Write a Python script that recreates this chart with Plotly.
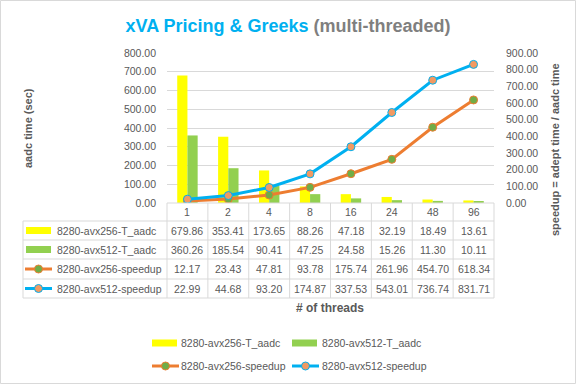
import plotly.graph_objects as go

# ---------------- data ----------------
threads = ["1", "2", "4", "8", "16", "24", "48", "96"]
avx256_time = [679.86, 353.41, 173.65, 88.26, 47.18, 32.19, 18.49, 13.61]
avx512_time = [360.26, 185.54, 90.41, 47.25, 24.58, 15.26, 11.30, 10.11]
avx256_speedup = [12.17, 23.43, 47.81, 93.78, 175.74, 261.96, 454.70, 618.34]
avx512_speedup = [22.99, 44.68, 93.20, 174.87, 337.53, 543.01, 736.74, 831.71]
series_names = ["8280-avx256-T_aadc", "8280-avx512-T_aadc",
                "8280-avx256-speedup", "8280-avx512-speedup"]
left_ticks = [0, 100, 200, 300, 400, 500, 600, 700, 800]
right_ticks = [0, 100, 200, 300, 400, 500, 600, 700, 800, 900]

# ---------------- styling / layout helpers ----------------
W, H = 576, 384
L, R, T, B = 167, 494, 53, 203
FONT = "Liberation Sans, Arial, sans-serif"
GREY = "#595959"
LINEC = "#D9D9D9"
YELLOW, GREEN, ORANGE, BLUE = "#FFFF00", "#92D050", "#ED7D31", "#00B0F0"
MK_GREEN, MK_ORANGE = "#70AD47", "#F19A63"
NCAT = len(threads)
FS = 10.5


def px(x):
    return (x - L) / (R - L)


def py(y):
    return (B - y) / (B - T)


def catx(i):
    return (i + 0.5) / NCAT


fig = go.Figure()
fig.add_trace(go.Bar(x=threads, y=avx256_time, name=series_names[0],
                     marker=dict(color=YELLOW, line=dict(width=0)), yaxis="y"))
fig.add_trace(go.Bar(x=threads, y=avx512_time, name=series_names[1],
                     marker=dict(color=GREEN, line=dict(width=0)), yaxis="y"))
fig.add_trace(go.Scatter(x=threads, y=avx256_speedup, name=series_names[2],
                         mode="lines+markers", yaxis="y2",
                         line=dict(color=ORANGE, width=3),
                         marker=dict(size=8, color=MK_GREEN, line=dict(color=ORANGE, width=1))))
fig.add_trace(go.Scatter(x=threads, y=avx512_speedup, name=series_names[3],
                         mode="lines+markers", yaxis="y2",
                         line=dict(color=BLUE, width=3),
                         marker=dict(size=8, color=MK_ORANGE, line=dict(color=BLUE, width=1))))

shapes = []
annotations = []

# figure border
shapes.append(dict(type="rect", xref="paper", yref="paper",
                   x0=px(0.5), x1=px(575.5), y0=py(0.5), y1=py(383.5),
                   line=dict(color=LINEC, width=1), layer="below"))

# data table grid
row_lines = [203, 221, 240, 259, 279, 298]
col_lines = [L + i * (R - L) / NCAT for i in range(NCAT + 1)]
for i, yl in enumerate(row_lines):
    x0 = L if i == 0 else 23
    shapes.append(dict(type="line", xref="paper", yref="paper",
                       x0=px(x0), x1=px(R), y0=py(yl), y1=py(yl),
                       line=dict(color=LINEC, width=1)))
for xl in col_lines:
    shapes.append(dict(type="line", xref="paper", yref="paper",
                       x0=px(xl), x1=px(xl), y0=py(203), y1=py(298),
                       line=dict(color=LINEC, width=1)))
shapes.append(dict(type="line", xref="paper", yref="paper",
                   x0=px(23), x1=px(23), y0=py(221), y1=py(298),
                   line=dict(color=LINEC, width=1)))

tfont = dict(family=FONT, size=FS, color=GREY)

# header row (categories)
for i, t in enumerate(threads):
    annotations.append(dict(x=catx(i), xref="paper", y=py(212), yref="paper", text=t,
                            showarrow=False, font=tfont, xanchor="center", yanchor="middle"))

row_centers = [230.5, 249.5, 269, 288.5]
table_values = [avx256_time, avx512_time, avx256_speedup, avx512_speedup]
for rc, vals in zip(row_centers, table_values):
    for i, v in enumerate(vals):
        annotations.append(dict(x=catx(i), xref="paper", y=py(rc), yref="paper", text=f"{v:.2f}",
                                showarrow=False, font=tfont, xanchor="center", yanchor="middle"))


def key(kind, color, mcolor, x0, yc, tx, label):
    if kind == "bar":
        shapes.append(dict(type="rect", xref="paper", yref="paper",
                           x0=px(x0), x1=px(x0 + 25), y0=py(yc - 3.5), y1=py(yc + 3.5),
                           fillcolor=color, line=dict(width=0)))
    else:
        shapes.append(dict(type="line", xref="paper", yref="paper",
                           x0=px(x0), x1=px(x0 + 27), y0=py(yc), y1=py(yc),
                           line=dict(color=color, width=3)))
        cx = x0 + 13.5
        shapes.append(dict(type="circle", xref="paper", yref="paper",
                           x0=px(cx - 4), x1=px(cx + 4), y0=py(yc - 4), y1=py(yc + 4),
                           fillcolor=mcolor, line=dict(color=color, width=1)))
    annotations.append(dict(x=px(tx), xref="paper", y=py(yc), yref="paper", text=label,
                            showarrow=False, font=tfont, xanchor="left", yanchor="middle"))


kinds = ["bar", "bar", "line", "line"]
colors = [YELLOW, GREEN, ORANGE, BLUE]
mcolors = [None, None, MK_GREEN, MK_ORANGE]
# table row keys
for k, c, m, rc, nm in zip(kinds, colors, mcolors, row_centers, series_names):
    key(k, c, m, 26 if k == "bar" else 25, rc, 55, nm)

# bottom legend
leg_pos = [(152, 343, 179), (292, 343, 320), (152, 366, 179), (292, 366, 320)]
for k, c, m, (lx, ly, tx), nm in zip(kinds, colors, mcolors, leg_pos, series_names):
    key(k, c, m, lx, ly, tx, nm)

# axis titles
bfont = dict(family=FONT, size=11, color=GREY)
annotations.append(dict(x=px(28), xref="paper", y=py(128), yref="paper",
                        text="<b>aadc time (sec)</b>", textangle=-90, showarrow=False,
                        font=bfont, xanchor="center", yanchor="middle"))
annotations.append(dict(x=px(555), xref="paper", y=py(150), yref="paper",
                        text="<b>speedup = adept time / aadc time</b>", textangle=-90,
                        showarrow=False, font=bfont, xanchor="center", yanchor="middle"))
annotations.append(dict(x=px(330), xref="paper", y=py(308), yref="paper",
                        text="<b># of threads</b>", showarrow=False,
                        font=dict(family=FONT, size=12, color=GREY),
                        xanchor="center", yanchor="middle"))

fig.update_layout(
    width=W, height=H,
    margin=dict(l=L, r=W - R, t=T, b=H - B, autoexpand=False),
    paper_bgcolor="white", plot_bgcolor="white",
    showlegend=False,
    barmode="group", bargap=0.5, bargroupgap=0,
    font=dict(family=FONT, size=FS, color=GREY),
    title=dict(text="<b><span style='color:#00B0F0'>xVA Pricing & Greeks</span> "
                    "<span style='color:#7F7F7F'>(multi-threaded)</span></b>",
               xref="container", x=0.5, xanchor="center",
               yref="container", y=1 - 26 / H, yanchor="middle",
               font=dict(family=FONT, size=18)),
    xaxis=dict(type="category", range=[-0.5, NCAT - 0.5],
               showticklabels=False, showgrid=False, zeroline=False,
               showline=False, ticks="", fixedrange=True),
    yaxis=dict(range=[0, 800], tickvals=left_ticks,
               ticktext=[f"{v:.2f}" for v in left_ticks],
               showgrid=True, gridcolor=LINEC, gridwidth=1, zeroline=False,
               showline=False, ticks="", ticklabelstandoff=10,
               tickfont=dict(family=FONT, size=FS, color=GREY)),
    yaxis2=dict(range=[0, 900], tickvals=right_ticks,
                ticktext=[f"{v:.2f}" for v in right_ticks],
                overlaying="y", side="right", showgrid=False, zeroline=False,
                showline=False, ticks="", ticklabelstandoff=11,
                tickfont=dict(family=FONT, size=FS, color=GREY)),
    shapes=shapes,
    annotations=annotations,
)

fig.write_html("out.html",
               config={"displayModeBar": False},
               post_script="document.body.style.margin='0';document.body.style.overflow='hidden';")
